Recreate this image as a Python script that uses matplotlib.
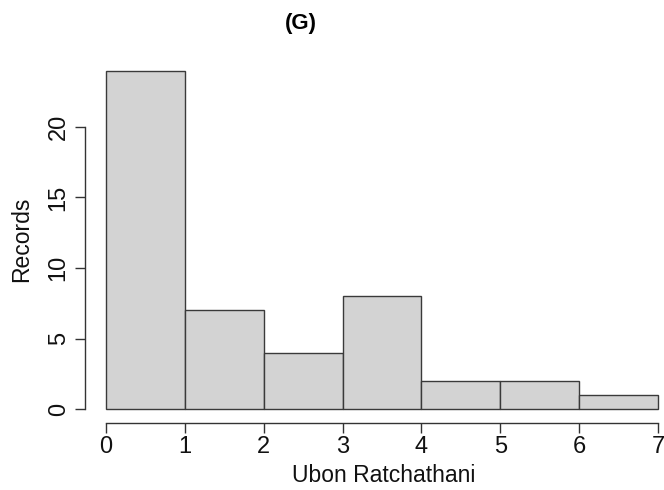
import matplotlib.pyplot as plt

# histogram data
bin_edges = [0, 1, 2, 3, 4, 5, 6, 7]
counts = [24, 7, 4, 8, 2, 2, 1]
x_ticks = [0, 1, 2, 3, 4, 5, 6, 7]
y_ticks = [0, 5, 10, 15, 20]

W, H = 664, 490
fig = plt.figure(figsize=(W / 100, H / 100), dpi=100)
ax = fig.add_axes([0, 0, 1, 1])

# pixel mapping: x 0 -> 106px, 7 -> 658px ; y 0 -> 409px, 20 -> 127px
px_x = (658 - 106) / 7
px_y = (409 - 127) / 20
ax.set_xlim(-106 / px_x, (W - 106) / px_x)
ax.set_ylim(-(H - 409) / px_y, 409 / px_y)

widths = [b - a for a, b in zip(bin_edges[:-1], bin_edges[1:])]
ax.bar(bin_edges[:-1], counts, width=widths, align="edge",
       color="#D3D3D3", edgecolor="#3a3a3a", linewidth=1.0)

# R-like detached axes
for s in ["top", "right"]:
    ax.spines[s].set_visible(False)
ax.spines["left"].set_position(("data", (85 - 106) / px_x))
ax.spines["bottom"].set_position(("data", -(423 - 409) / px_y))
ax.spines["left"].set_bounds(0, 20)
ax.spines["bottom"].set_bounds(0, 7)
for s in ["left", "bottom"]:
    ax.spines[s].set_color("#333333")
    ax.spines[s].set_linewidth(1.0)

ax.set_xticks(x_ticks)
ax.set_yticks(y_ticks)
ax.tick_params(axis="both", length=7, width=1.0, color="#333333",
               labelsize=17, labelcolor="#111111")
ax.tick_params(axis="x", pad=2)
ax.tick_params(axis="y", pad=4)
for lab in ax.get_yticklabels():
    lab.set_rotation(90)
    lab.set_va("center")

fig.text(301 / W, 1 - 24 / H, "(G)", ha="center", va="center",
         fontsize=16, fontweight="bold", family="Liberation Sans")
fig.text(384 / W, 1 - 482 / H, "Ubon Ratchathani", ha="center", va="baseline",
         fontsize=16.5, family="Liberation Sans", color="#111111")
fig.text(22 / W, 1 - 239 / H, "Records", ha="center", va="center",
         rotation=90, fontsize=16.5, family="Liberation Sans", color="#111111")
for lab in ax.get_xticklabels() + ax.get_yticklabels():
    lab.set_family("Liberation Sans")

fig.savefig("out.png", dpi=100)
